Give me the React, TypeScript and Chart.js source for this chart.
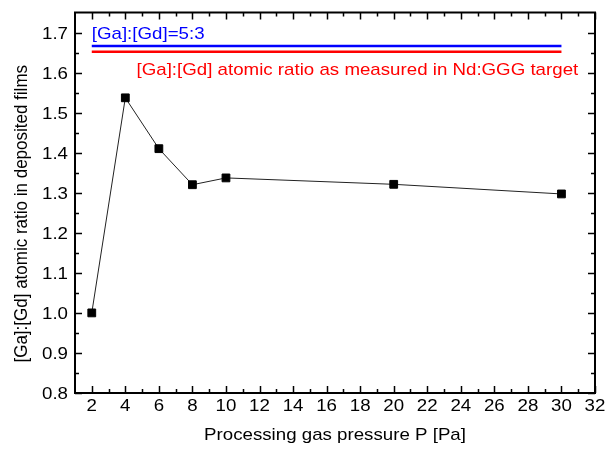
import React, { useEffect, useRef } from "react";
import { Chart, registerables } from "chart.js";

Chart.register(...registerables);

const pressures = [2, 4, 6, 8, 10, 20, 30];
const ratios = [1.0, 1.537, 1.41, 1.32, 1.337, 1.321, 1.297];
const xTickValues = [2, 4, 6, 8, 10, 12, 14, 16, 18, 20, 22, 24, 26, 28, 30, 32];
const yTickValues = [0.8, 0.9, 1.0, 1.1, 1.2, 1.3, 1.4, 1.5, 1.6, 1.7];
const stoichRatio = 5 / 3;
const targetRatio = 1.652;
const refLineRange = [2, 30];
const stoichLabel = "[Ga]:[Gd]=5:3";
const targetLabel = "[Ga]:[Gd] atomic ratio as measured in Nd:GGG target";
const xTitle = "Processing gas pressure P [Pa]";
const yTitle = "[Ga]:[Gd] atomic ratio in deposited films";

const FONT = "'Liberation Sans', Arial, sans-serif";
const STRETCH = 1.1;

function stretchedText(
  ctx: CanvasRenderingContext2D,
  text: string,
  x: number,
  y: number,
  align: CanvasTextAlign,
  color: string,
  size: number,
  rotate = false
) {
  ctx.save();
  ctx.translate(x, y);
  ctx.scale(STRETCH, 1);
  if (rotate) ctx.rotate(-Math.PI / 2);
  ctx.font = `${size}px ${FONT}`;
  ctx.fillStyle = color;
  ctx.textAlign = align;
  ctx.textBaseline = "alphabetic";
  ctx.fillText(text, 0, 0);
  ctx.restore();
}

const framePlugin = {
  id: "frameTicks",
  afterDraw(chart: any) {
    const { ctx, chartArea, scales } = chart;
    const xs = scales.x;
    const ys = scales.y;
    const { left, right, top, bottom } = chartArea;
    ctx.save();
    ctx.strokeStyle = "#000";
    ctx.lineWidth = 1.5;
    const drawX = (v: number, len: number) => {
      const px = Math.round(xs.getPixelForValue(v)) + 0.5;
      ctx.beginPath();
      ctx.moveTo(px, bottom);
      ctx.lineTo(px, bottom - len);
      ctx.moveTo(px, top);
      ctx.lineTo(px, top + len);
      ctx.stroke();
    };
    const drawY = (v: number, len: number) => {
      const py = Math.round(ys.getPixelForValue(v)) + 0.5;
      ctx.beginPath();
      ctx.moveTo(left, py);
      ctx.lineTo(left + len, py);
      ctx.moveTo(right, py);
      ctx.lineTo(right - len, py);
      ctx.stroke();
    };
    xTickValues.forEach((v, i) => {
      drawX(v, 7);
      const step = i > 0 ? v - xTickValues[i - 1] : xTickValues[1] - xTickValues[0];
      const m = v - step / 2;
      if (m > xs.min && m <= xs.max) drawX(m, 4);
      stretchedText(ctx, String(v), xs.getPixelForValue(v), bottom + 18, "center", "#000", 17);
    });
    yTickValues.forEach((v, i) => {
      drawY(v, 7);
      const step = i > 0 ? v - yTickValues[i - 1] : yTickValues[1] - yTickValues[0];
      const m = v - step / 2;
      if (m > ys.min && m <= ys.max) drawY(m, 4);
      if (i === yTickValues.length - 1) {
        const m2 = v + step / 2;
        if (m2 < ys.max) drawY(m2, 4);
      }
      stretchedText(ctx, v.toFixed(1), left - 7, ys.getPixelForValue(v) + 6, "right", "#000", 17);
    });
    ctx.lineWidth = 2;
    ctx.strokeRect(left, top, right - left, bottom - top);
    ctx.restore();

    // titles
    stretchedText(ctx, xTitle, (left + right) / 2, bottom + 47, "center", "#000", 17);
    stretchedText(ctx, yTitle, 27, (top + bottom) / 2 + 11, "center", "#000", 17, true);

    // annotation texts
    stretchedText(ctx, stoichLabel, xs.getPixelForValue(refLineRange[0]), ys.getPixelForValue(stoichRatio) - 7, "left", "#0000ff", 17);
    stretchedText(ctx, targetLabel, xs.getPixelForValue(31), ys.getPixelForValue(targetRatio) + 23, "right", "#ff0000", 17);
  },
};

export default function App() {
  const ref = useRef<HTMLCanvasElement>(null);
  useEffect(() => {
    document.body.style.margin = "0";
    const chart = new Chart(ref.current!, {
      type: "line",
      data: {
        datasets: [
          {
            data: pressures.map((x, i) => ({ x, y: ratios[i] })),
            borderColor: "#222",
            borderWidth: 1,
            pointStyle: "rect",
            pointRadius: 5.5,
            pointBackgroundColor: "#000",
            pointBorderColor: "#000",
            pointBorderWidth: 1,
            tension: 0,
          },
          {
            data: refLineRange.map((x) => ({ x, y: stoichRatio })),
            borderColor: "#0000ff",
            borderWidth: 2.5,
            pointRadius: 0,
          },
          {
            data: refLineRange.map((x) => ({ x, y: targetRatio })),
            borderColor: "#ff0000",
            borderWidth: 2.5,
            pointRadius: 0,
          },
        ],
      },
      options: {
        animation: false,
        responsive: false,
        events: [],
        layout: { padding: { left: 0, right: 13, top: 12.5, bottom: 0 } },
        plugins: { legend: { display: false }, tooltip: { enabled: false } },
        scales: {
          x: {
            type: "linear",
            min: 1,
            max: 32,
            afterBuildTicks: (s: any) => {
              s.ticks = xTickValues.map((value) => ({ value }));
            },
            afterFit: (s: any) => {
              s.height = 57;
            },
            grid: { display: false },
            border: { display: false },
            ticks: { display: false },
            title: { display: false, text: xTitle },
          },
          y: {
            type: "linear",
            min: 0.8,
            max: 1.75,
            afterBuildTicks: (s: any) => {
              s.ticks = yTickValues.map((value) => ({ value }));
            },
            afterFit: (s: any) => {
              s.width = 75;
            },
            grid: { display: false },
            border: { display: false },
            ticks: { display: false },
            title: { display: false, text: yTitle },
          },
        },
      },
      plugins: [framePlugin],
    } as any);
    return () => chart.destroy();
  }, []);
  return (
    <div style={{ width: 608, height: 450, background: "#fff" }}>
      <canvas ref={ref} width={608} height={450} style={{ display: "block" }} />
    </div>
  );
}
